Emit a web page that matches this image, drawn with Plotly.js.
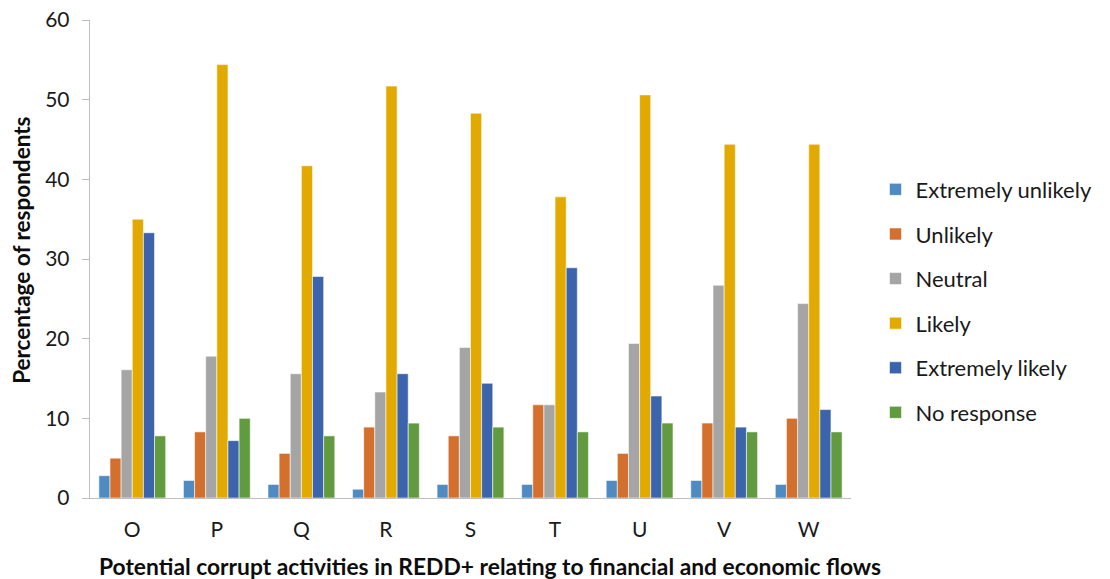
<!DOCTYPE html>
<html>
<head>
<meta charset="utf-8">
<script src="https://cdn.plot.ly/plotly-3.0.1.min.js"></script>
<style>
  html, body { margin: 0; padding: 0; background: #fff; }
  #chart { width: 1110px; height: 579px; }
</style>
</head>
<body>
<div id="chart"></div>
<script>
// Activities (categories on the x axis)
const activities = ["O", "P", "Q", "R", "S", "T", "U", "V", "W"];

// Percentage of respondents per response option
const extremelyUnlikely = [2.8, 2.2, 1.7, 1.1, 1.7, 1.7, 2.2, 2.2, 1.7];
const unlikely          = [5.0, 8.3, 5.6, 8.9, 7.8, 11.7, 5.6, 9.4, 10.0];
const neutral           = [16.1, 17.8, 15.6, 13.3, 18.9, 11.7, 19.4, 26.7, 24.4];
const likely            = [35.0, 54.4, 41.7, 51.7, 48.3, 37.8, 50.6, 44.4, 44.4];
const extremelyLikely   = [33.3, 7.2, 27.8, 15.6, 14.4, 28.9, 12.8, 8.9, 11.1];
const noResponse        = [7.8, 10.0, 7.8, 9.4, 8.9, 8.3, 9.4, 8.3, 8.3];

const seriesNames  = ["Extremely unlikely", "Unlikely", "Neutral", "Likely", "Extremely likely", "No response"];
const seriesValues = [extremelyUnlikely, unlikely, neutral, likely, extremelyLikely, noResponse];
const seriesColors = ["#4F8BC1", "#D4702E", "#A5A5A5", "#E2AA00", "#3C64AD", "#629B3F"];

const xTitle = "Potential corrupt activities in REDD+ relating to financial and economic flows";
const yTitle = "Percentage of respondents";

const FONT = "Lato, 'Liberation Sans', Arial, sans-serif";

const traces = seriesNames.map((name, i) => ({
  type: "bar",
  name: name,
  x: activities,
  y: seriesValues[i],
  legendgroup: "g" + i,
  marker: { color: seriesColors[i], line: { color: "rgba(255,255,255,0.7)", width: 0.8 } },
  hoverinfo: "x+y+name"
}));

const layout = {
  width: 1110,
  height: 579,
  margin: { l: 90, r: 245, t: 20, b: 81 },
  paper_bgcolor: "#ffffff",
  plot_bgcolor: "#ffffff",
  barmode: "group",
  bargap: 0.21,
  bargroupgap: 0,
  font: { family: FONT, size: 21, color: "#1a1a1a" },
  xaxis: {
    type: "category",
    showline: true,
    linecolor: "#BFBFBF",
    linewidth: 1.3,
    ticks: "",
    ticklabelstandoff: 12,
    showgrid: false,
    zeroline: false,
    tickfont: { family: FONT, size: 21, color: "#1a1a1a" }
  },
  yaxis: {
    range: [0, 60],
    dtick: 10,
    showline: true,
    linecolor: "#BFBFBF",
    linewidth: 1.3,
    ticks: "outside",
    ticklen: 7,
    tickcolor: "#BFBFBF",
    ticklabelstandoff: 8,
    showgrid: false,
    zeroline: false,
    tickfont: { family: FONT, size: 21, color: "#1a1a1a" }
  },
  annotations: [
    {
      // x-axis title, slightly right of the plot centre
      text: "<b>" + xTitle + "</b>",
      xref: "paper", yref: "paper",
      x: 0.526, y: 0,
      xanchor: "center", yanchor: "middle",
      yshift: -68,
      showarrow: false,
      font: { family: FONT, size: 22.8, color: "#0d0d0d" }
    },
    {
      // y-axis title, rotated
      text: "<b>" + yTitle + "</b>",
      xref: "paper", yref: "paper",
      x: 0, y: 0.517,
      xanchor: "center", yanchor: "middle",
      xshift: -68,
      textangle: -90,
      showarrow: false,
      font: { family: FONT, size: 22.5, color: "#0d0d0d" }
    }
  ],
  legend: {
    x: 1.0322,
    xanchor: "left",
    y: 0.412,
    yanchor: "middle",
    font: { family: FONT, size: 22, color: "#1a1a1a" },
    traceorder: "grouped",
    tracegroupgap: 13,
    bgcolor: "rgba(0,0,0,0)"
  },
  showlegend: true
};

Plotly.newPlot("chart", traces, layout, { displayModeBar: false, staticPlot: true });
</script>
</body>
</html>
